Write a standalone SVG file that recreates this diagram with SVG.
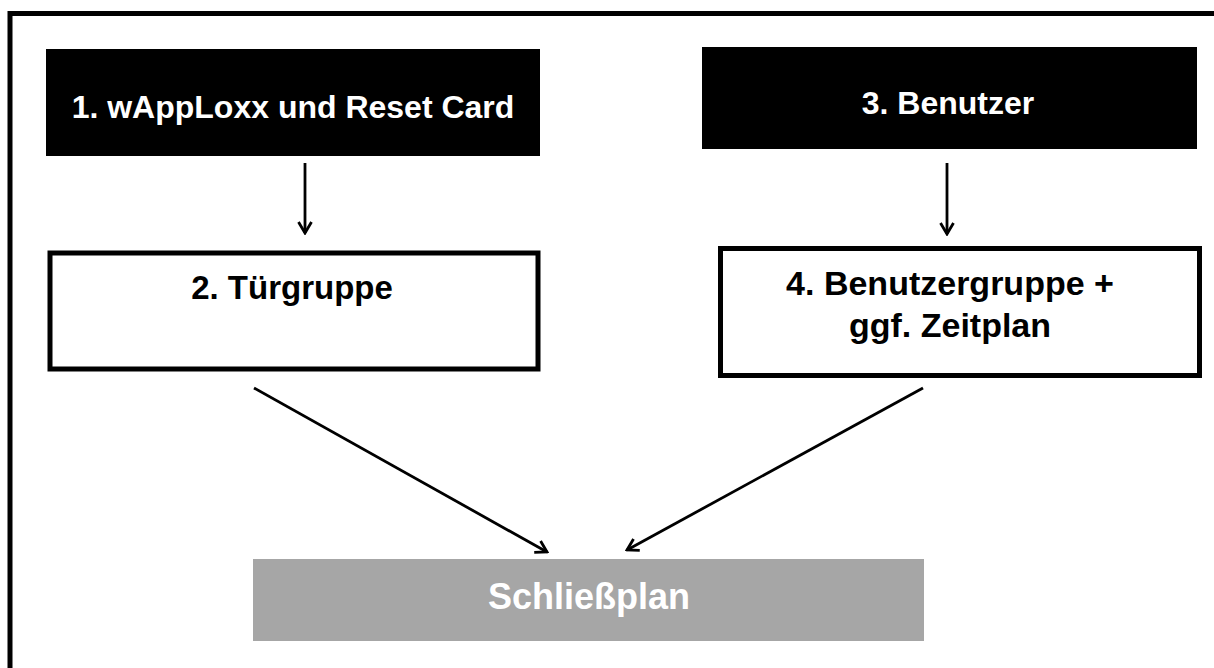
<svg xmlns="http://www.w3.org/2000/svg" width="1214" height="668" viewBox="0 0 1214 668">
  <defs>
    <style>
      .lbl { font-family: "Liberation Sans", Arial, sans-serif; font-weight: bold; text-anchor: middle; }
      .white { fill: #ffffff; }
      .black { fill: #000000; }
      .conn { stroke: #000000; stroke-width: 2.8; fill: none; }
    </style>
    <marker id="arr" viewBox="0 0 16 16" refX="14" refY="8" markerWidth="16" markerHeight="16" markerUnits="userSpaceOnUse" orient="auto">
      <path d="M3,1.5 L14,8 L3,14.5" fill="none" stroke="#000" stroke-width="2.8"/>
    </marker>
  </defs>
  <rect x="0" y="0" width="1214" height="668" fill="#ffffff"/>
  <g id="frame">
    <path d="M10,668 L10,13.5 L1214,13.5" fill="none" stroke="#000" stroke-width="5"/>
  </g>
  <g id="node1">
    <rect x="46" y="49" width="494" height="107" fill="#000"/>
    <text class="lbl white" x="293" y="118" font-size="32">1. wAppLoxx und Reset Card</text>
  </g>
  <g id="node3">
    <rect x="702" y="47" width="495" height="102" fill="#000"/>
    <text class="lbl white" x="948" y="114" font-size="32">3. Benutzer</text>
  </g>
  <g id="node2">
    <rect x="50" y="253" width="488" height="116" fill="#fff" stroke="#000" stroke-width="5"/>
    <text class="lbl black" x="292" y="299" font-size="33">2. Türgruppe</text>
  </g>
  <g id="node4">
    <rect x="720.5" y="248.5" width="479" height="127" fill="#fff" stroke="#000" stroke-width="5"/>
    <text class="lbl black" x="950" y="295" font-size="34">4. Benutzergruppe +</text>
    <text class="lbl black" x="950" y="337" font-size="34">ggf. Zeitplan</text>
  </g>
  <g id="node5">
    <rect x="253" y="559" width="671" height="82" fill="#a6a6a6"/>
    <text class="lbl white" x="589" y="609" font-size="36">Schließplan</text>
  </g>
  <g id="connectors">
    <line class="conn" x1="305" y1="163" x2="305" y2="233" marker-end="url(#arr)"/>
    <line class="conn" x1="947" y1="163" x2="947" y2="234" marker-end="url(#arr)"/>
    <line class="conn" x1="254" y1="388" x2="547" y2="552" marker-end="url(#arr)"/>
    <line class="conn" x1="923" y1="388" x2="627" y2="550" marker-end="url(#arr)"/>
  </g>
</svg>
